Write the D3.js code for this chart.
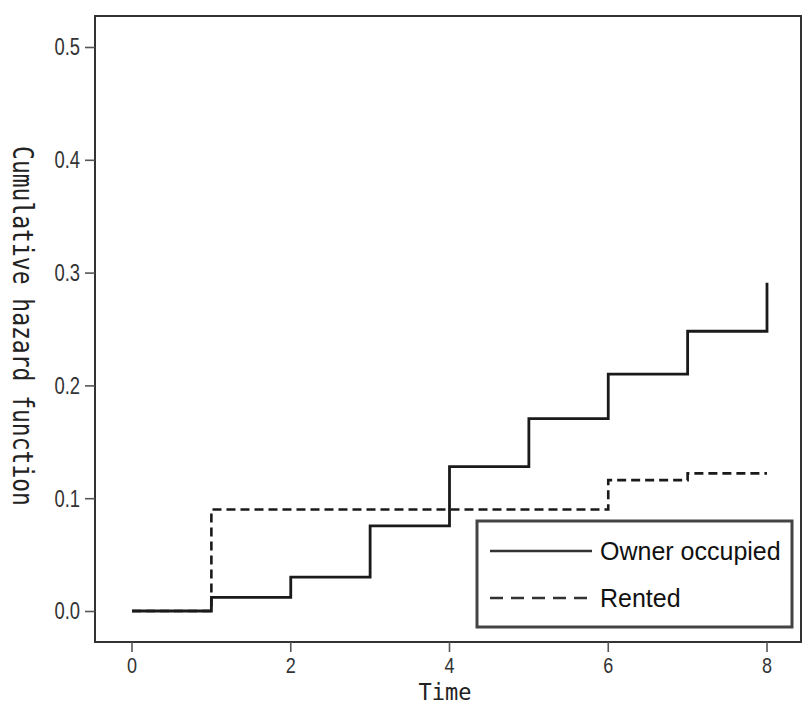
<!DOCTYPE html>
<html>
<head>
<meta charset="utf-8">
<script src="https://cdn.jsdelivr.net/npm/d3@7"></script>
<style>
  html, body { margin: 0; padding: 0; background: #fff; }
  svg { display: block; }
</style>
</head>
<body>
<svg id="chart" width="810" height="705"></svg>
<script>
// ---- data ----
const ownerTimes  = [0, 1, 2, 3, 4, 5, 6, 7, 8];
const ownerValues = [0, 0.012, 0.030, 0.0755, 0.128, 0.1705, 0.210, 0.248, 0.291];
const rentedTimes  = [0, 1, 6, 7, 8];
const rentedValues = [0, 0.090, 0.116, 0.122, 0.122];
const xTicks = [0, 2, 4, 6, 8];
const yTicks = [0, 0.1, 0.2, 0.3, 0.4, 0.5];
const seriesNames = ["Owner occupied", "Rented"];
const xTitle = "Time";
const yTitle = "Cumulative hazard function";

// ---- layout ----
const svg = d3.select("#chart");
const box = {left: 95, top: 16, right: 801, bottom: 642};
const x = d3.scaleLinear().domain([0, 8]).range([132, 767]);
const y = d3.scaleLinear().domain([0, 0.5]).range([611, 47]);

const tickFont = "'Liberation Sans', Arial, sans-serif";
const titleFont = "'DejaVu Sans Mono', 'Liberation Mono', monospace";

// frame
svg.append("rect")
  .attr("x", box.left).attr("y", box.top)
  .attr("width", box.right - box.left).attr("height", box.bottom - box.top)
  .attr("fill", "none").attr("stroke", "#333").attr("stroke-width", 2);

// y axis
const gy = svg.append("g").attr("transform", `translate(${box.left},0)`)
  .call(d3.axisLeft(y).tickValues(yTicks).tickFormat(d3.format(".1f")).tickSize(10));
gy.select(".domain").remove();
gy.selectAll(".tick line").attr("stroke", "#555").attr("stroke-width", 1.6);
gy.selectAll(".tick text")
  .attr("font-family", tickFont).attr("font-size", 23).attr("fill", "#333")
  .attr("x", -15 / 0.8).attr("dy", "0.34em")
  .attr("transform", "scale(0.8,1)");

// x axis
const gx = svg.append("g").attr("transform", `translate(0,${box.bottom})`)
  .call(d3.axisBottom(x).tickValues(xTicks).tickFormat(d3.format("d")).tickSize(10));
gx.select(".domain").remove();
gx.selectAll(".tick line").attr("stroke", "#555").attr("stroke-width", 1.6);
gx.selectAll(".tick text")
  .attr("font-family", tickFont).attr("font-size", 22).attr("fill", "#333")
  .attr("y", 15).attr("dy", "0.71em")
  .attr("transform", "scale(0.82,1)");
gx.selectAll(".tick").each(function(d) {
  d3.select(this).attr("transform", `translate(${x(d)},0)`);
  d3.select(this).select("text").attr("x", 0);
});

// lines
const line = d3.line().x(d => x(d[0])).y(d => y(d[1])).curve(d3.curveStepAfter);
const rentedData = rentedTimes.map((t, i) => [t, rentedValues[i]]);
const ownerData = ownerTimes.map((t, i) => [t, ownerValues[i]]);

svg.append("path").datum(rentedData)
  .attr("d", line).attr("fill", "none")
  .attr("stroke", "#1a1a1a").attr("stroke-width", 2.6)
  .attr("stroke-dasharray", "9,5");
svg.append("path").datum(ownerData)
  .attr("d", line).attr("fill", "none")
  .attr("stroke", "#1a1a1a").attr("stroke-width", 2.8);

// axis titles
svg.append("text")
  .attr("transform", "translate(445,700) scale(1,1.08)")
  .attr("text-anchor", "middle")
  .attr("font-family", titleFont).attr("font-size", 22).attr("fill", "#222")
  .text(xTitle);
svg.append("text")
  .attr("transform", "translate(13,326) rotate(90) scale(1,1.22)")
  .attr("text-anchor", "middle")
  .attr("font-family", titleFont).attr("font-size", 23).attr("fill", "#222")
  .text(yTitle);

// legend
const lg = svg.append("g");
lg.append("rect")
  .attr("x", 477).attr("y", 521).attr("width", 315).attr("height", 106)
  .attr("fill", "#fff").attr("stroke", "#444").attr("stroke-width", 3);
const legendRows = [
  {name: seriesNames[0], dash: null, yy: 551},
  {name: seriesNames[1], dash: "13,8", yy: 598}
];
legendRows.forEach(r => {
  lg.append("line")
    .attr("x1", 490).attr("x2", 592).attr("y1", r.yy).attr("y2", r.yy)
    .attr("stroke", "#333").attr("stroke-width", 2.6)
    .attr("stroke-dasharray", r.dash);
  lg.append("text")
    .attr("x", 600).attr("y", r.yy + 9)
    .attr("font-family", tickFont).attr("font-size", 25).attr("fill", "#111")
    .text(r.name);
});
</script>
</body>
</html>
